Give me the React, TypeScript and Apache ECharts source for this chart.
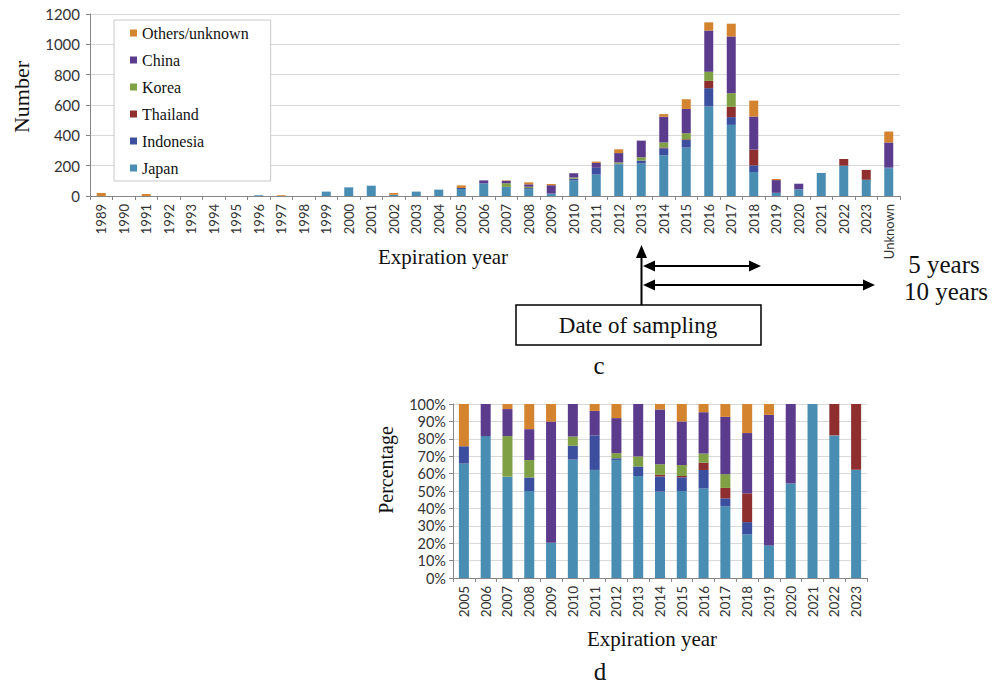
import React, { useEffect, useRef } from 'react';
import * as echarts from 'echarts';

// Top chart (c): number of products by expiration year and country of origin
const years = ['1989','1990','1991','1992','1993','1994','1995','1996','1997','1998',
  '1999','2000','2001','2002','2003','2004','2005','2006','2007','2008',
  '2009','2010','2011','2012','2013','2014','2015','2016','2017','2018',
  '2019','2020','2021','2022','2023','Unknown'];

const japan = [0,0,0,0,0,0,0,5,0,0, 29,57,68,8,29,42,46,84,60,45, 16,102,141,209,214,268,319,590,469,158, 21,44,152,200,107,183];
const indonesia = [0,0,0,0,0,0,0,0,0,0, 0,0,0,0,0,0,7,0,0,7, 0,12,45,3,20,47,50,121,51,44, 0,0,0,0,0,5];
const thailand = [0,0,0,0,0,0,0,0,0,0, 0,0,0,0,0,0,0,0,0,0, 0,0,0,0,0,5,5,48,68,104, 0,0,0,44,65,0];
const korea = [0,0,0,0,0,0,0,0,0,0, 0,0,0,0,0,0,0,0,24,9, 0,8,0,9,21,33,40,60,90,0, 0,0,0,0,0,0];
const china = [0,0,0,0,0,0,0,0,0,0, 0,0,0,0,0,0,0,19,16,16, 55,28,32,62,110,170,160,272,374,218, 84,37,0,0,0,165];
const others = [20,0,13,0,0,0,0,0,5,0, 0,0,0,12,0,0,17,0,3,13, 8,0,9,25,0,17,64,54,84,105, 7,0,0,0,0,72];

// Bottom chart (d): share by year, 2005-2023
const pctYears = ['2005','2006','2007','2008','2009','2010','2011','2012','2013','2014',
  '2015','2016','2017','2018','2019','2020','2021','2022','2023'];

const countryNames = ['Japan', 'Indonesia', 'Thailand', 'Korea', 'China', 'Others/unknown'];
const countryColors = ['#4a8db3', '#3b4f9e', '#8e2e2e', '#7fa044', '#5b3b8c', '#d4832f'];
const legendOrder = ['Others/unknown', 'China', 'Korea', 'Thailand', 'Indonesia', 'Japan'];

const yTicksTop = [0, 1200, 200];
const yTicksPct = [0, 100, 10];

const SERIF = '"Liberation Serif", "Times New Roman", serif';
const SANS = 'Lato, "Liberation Sans", sans-serif';

export default function App() {
  const ref = useRef<HTMLDivElement>(null);

  useEffect(() => {
    const chart = echarts.init(ref.current!, null, { renderer: 'svg' });
    const data = [japan, indonesia, thailand, korea, china, others];

    const pctData = data.map((arr) =>
      pctYears.map((y) => {
        const i = years.indexOf(y);
        const total = data.reduce((s, a) => s + a[i], 0);
        return total ? (arr[i] / total) * 100 : 0;
      })
    );

    const axisLine = { show: true, lineStyle: { color: '#868686', width: 1 } };
    const axisTick = { show: true, length: 4, lineStyle: { color: '#868686' } };
    const splitLine = { show: true, lineStyle: { color: '#d9d9d9', width: 1 } };

    const series: any[] = [];
    countryNames.forEach((name, k) => {
      series.push({
        type: 'bar', name, stack: 'top', xAxisIndex: 0, yAxisIndex: 0,
        data: data[k], barWidth: 9, itemStyle: { color: countryColors[k] },
      });
    });
    countryNames.forEach((name, k) => {
      series.push({
        type: 'bar', name, stack: 'pct', xAxisIndex: 1, yAxisIndex: 1,
        data: pctData[k], barWidth: 10, itemStyle: { color: countryColors[k] },
      });
    });

    const txt = (text: string, x: number, y: number, size: number, rot = 0) => ({
      type: 'text', x, y, rotation: rot,
      style: {
        text, fill: '#111', fontSize: size, fontFamily: SERIF,
        textAlign: 'center', textVerticalAlign: 'middle', align: 'center', verticalAlign: 'middle',
      },
    });
    const line = (x1: number, y1: number, x2: number, y2: number) => ({
      type: 'line', shape: { x1, y1, x2, y2 }, style: { stroke: '#000', lineWidth: 2 },
    });
    const poly = (pts: number[][]) => ({ type: 'polygon', shape: { points: pts }, style: { fill: '#000' } });

    const option: any = {
      animation: false,
      backgroundColor: '#fff',
      color: countryColors,
      grid: [
        { left: 90, top: 14, width: 810, height: 182, containLabel: false },
        { left: 453, top: 404, width: 414, height: 174, containLabel: false },
      ],
      legend: {
        data: legendOrder,
        orient: 'vertical',
        left: 114,
        top: 20,
        itemWidth: 7,
        itemHeight: 7,
        itemGap: 11,
        icon: 'rect',
        selectedMode: false,
        padding: [5, 22, 5, 16],
        backgroundColor: '#fff',
        borderColor: '#c8c8c8',
        borderWidth: 1,
        textStyle: { fontFamily: SERIF, fontSize: 16, color: '#111', lineHeight: 16, padding: [0, 0, 0, 0] },
      },
      xAxis: [
        {
          type: 'category', gridIndex: 0, data: years,
          axisLine, axisTick: { ...axisTick, alignWithLabel: false },
          axisLabel: { rotate: 90, interval: 0, fontFamily: SANS, fontSize: 13, color: '#333', margin: 8 },
          splitLine: { show: false },
        },
        {
          type: 'category', gridIndex: 1, data: pctYears,
          axisLine, axisTick: { ...axisTick, alignWithLabel: false },
          axisLabel: { rotate: 90, interval: 0, fontFamily: SANS, fontSize: 13.5, color: '#333', margin: 8 },
          splitLine: { show: false },
        },
      ],
      yAxis: [
        {
          type: 'value', gridIndex: 0, min: yTicksTop[0], max: yTicksTop[1], interval: yTicksTop[2],
          axisLine, axisTick, splitLine,
          axisLabel: { fontFamily: SANS, fontSize: 15, color: '#333', margin: 10, formatter: (v: number) => String(v) },
        },
        {
          type: 'value', gridIndex: 1, min: yTicksPct[0], max: yTicksPct[1], interval: yTicksPct[2],
          axisLine, axisTick, splitLine,
          axisLabel: { fontFamily: SANS, fontSize: 14.5, color: '#333', margin: 7, formatter: (v: number) => v + '%' },
        },
      ],
      series,
      graphic: [
        txt('Number', 21, 97, 22, Math.PI / 2),
        txt('Expiration year', 443, 257, 21),
        // sampling date arrow
        line(641.5, 305, 641.5, 256),
        poly([[641.5, 245], [636, 258], [647, 258]]),
        // 5 years arrow
        line(652, 266, 750, 266),
        poly([[643, 266], [655, 260.5], [655, 271.5]]),
        poly([[761, 266], [749, 260.5], [749, 271.5]]),
        // 10 years arrow
        line(652, 285, 864, 285),
        poly([[643, 285], [655, 279.5], [655, 290.5]]),
        poly([[875, 285], [863, 279.5], [863, 290.5]]),
        txt('5 years', 944, 264, 25),
        txt('10 years', 946, 291, 25),
        {
          type: 'rect', shape: { x: 516, y: 305, width: 245, height: 40 },
          style: { fill: '#fff', stroke: '#000', lineWidth: 1.5 },
        },
        txt('Date of sampling', 638, 325, 23),
        txt('c', 599, 365, 25),
        txt('Percentage', 386, 470, 20, Math.PI / 2),
        txt('Expiration year', 652, 639, 21),
        txt('d', 600, 671, 25),
      ],
    };

    chart.setOption(option);
    return () => chart.dispose();
  }, []);

  return (
    <div
      ref={ref}
      style={{ position: 'fixed', left: 0, top: 0, width: 998, height: 683, background: '#fff' }}
    />
  );
}
